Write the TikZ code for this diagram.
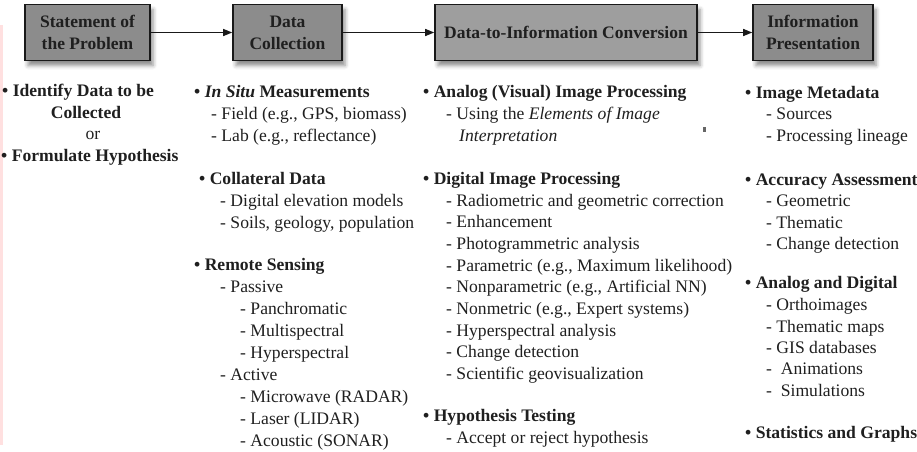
\documentclass[tikz,border=0pt]{standalone}
\usepackage{fontspec}
\setmainfont{Liberation Serif}
\usetikzlibrary{shadows.blur,arrows.meta}

\begin{document}
\begin{tikzpicture}[x=1pt,y=-1pt,
  stage/.style={draw=black!90, line width=1.6pt, fill=#1, text=black!88,
    blur shadow={shadow xshift=3pt,shadow yshift=-5pt,shadow blur radius=4pt,shadow opacity=45},
    font=\fontsize{17.5}{22}\selectfont\bfseries, align=center, inner sep=0pt},
  flow/.style={line width=1.3pt, draw=black!90, -{Triangle[length=9pt,width=7pt]}},
  itm/.style={anchor=base west, inner sep=0pt, text=black!88, font=\fontsize{17.6}{20}\selectfont},
  hd/.style={itm, font=\fontsize{17.6}{20}\selectfont\bfseries}
]
\useasboundingbox (0,0) rectangle (917,451);
\fill[red!12] (0,25) rectangle (3,445);

% stage boxes
\node[stage=black!45, minimum width=125, minimum height=56] (b1) at (87.5,32.5) {Statement of\\the Problem};
\node[stage=black!45, minimum width=109, minimum height=56] (b2) at (287.5,32.5) {Data\\Collection};
\node[stage=black!38, minimum width=262, minimum height=56] (b3) at (566,32.5) {Data-to-Information Conversion};
\node[stage=black!45, minimum width=120, minimum height=56] (b4) at (813,32.5) {Information\\Presentation};

\draw[flow] (b1) -- (b2);
\draw[flow] (b2) -- (b3);
\draw[flow] (b3) -- (b4);

% column 1
\node[hd] (p1) at (2,96) {• Identify Data to be};
\node[hd,anchor=base] (p2) at (86,118) {Collected};
\node[itm,anchor=base] (p3) at (93,139) {or};
\node[hd] (p4) at (1,161) {• Formulate Hypothesis};

% column 2
\node[hd] (c1) at (194,97) {• \textit{In Situ} Measurements};
\node[itm] (c2) at (211,119) {- Field (e.g., GPS, biomass)};
\node[itm] (c3) at (211,141) {- Lab (e.g., reflectance)};
\node[hd] (c4) at (199,184) {• Collateral Data};
\node[itm] (c5) at (220,206) {- Digital elevation models};
\node[itm] (c6) at (220,228) {- Soils, geology, population};
\node[hd] (c7) at (194,270) {• Remote Sensing};
\node[itm] (c8) at (220,292) {- Passive};
\node[itm] (c9) at (240,314) {- Panchromatic};
\node[itm] (c10) at (240,336) {- Multispectral};
\node[itm] (c11) at (240,358) {- Hyperspectral};
\node[itm] (c12) at (220,380) {- Active};
\node[itm] (c13) at (240,402) {- Microwave (RADAR)};
\node[itm] (c14) at (240,424) {- Laser (LIDAR)};
\node[itm] (c15) at (240,446) {- Acoustic (SONAR)};

% column 3
\node[hd] (d1) at (423,97) {• Analog (Visual) Image Processing};
\node[itm] (d2) at (446,119) {- Using the \textit{Elements of Image}};
\node[itm] (d3) at (459,141) {\textit{Interpretation}};
\node[hd] (d4) at (423,184) {• Digital Image Processing};
\node[itm] (d5) at (446,206) {- Radiometric and geometric correction};
\node[itm] (d6) at (446,227.7) {- Enhancement};
\node[itm] (d7) at (446,249.4) {- Photogrammetric analysis};
\node[itm] (d8) at (446,271.1) {- Parametric (e.g., Maximum likelihood)};
\node[itm] (d9) at (446,292.8) {- Nonparametric (e.g., Artificial NN)};
\node[itm] (d10) at (446,314.5) {- Nonmetric (e.g., Expert systems)};
\node[itm] (d11) at (446,336.2) {- Hyperspectral analysis};
\node[itm] (d12) at (446,357.9) {- Change detection};
\node[itm] (d13) at (446,379.6) {- Scientific geovisualization};
\node[hd] (d14) at (423,421) {• Hypothesis Testing};
\node[itm] (d15) at (446,443) {- Accept or reject hypothesis};
\fill[black!60] (703,127) rectangle (706,132);

% column 4
\node[hd] (e1) at (745,98) {• Image Metadata};
\node[itm] (e2) at (766,119) {- Sources};
\node[itm] (e3) at (766,141) {- Processing lineage};
\node[hd] (e4) at (745,185) {• Accuracy Assessment};
\node[itm] (e5) at (766,206) {- Geometric};
\node[itm] (e6) at (766,228) {- Thematic};
\node[itm] (e7) at (766,249) {- Change detection};
\node[hd] (e8) at (745,288) {• Analog and Digital};
\node[itm] (e9) at (766,310) {- Orthoimages};
\node[itm] (e10) at (766,332) {- Thematic maps};
\node[itm] (e11) at (766,353) {- GIS databases};
\node[itm] (e12) at (766,374) {-\ \ Animations};
\node[itm] (e13) at (766,396) {-\ \ Simulations};
\node[hd] (e14) at (745,438) {• Statistics and Graphs};
\end{tikzpicture}
\end{document}
